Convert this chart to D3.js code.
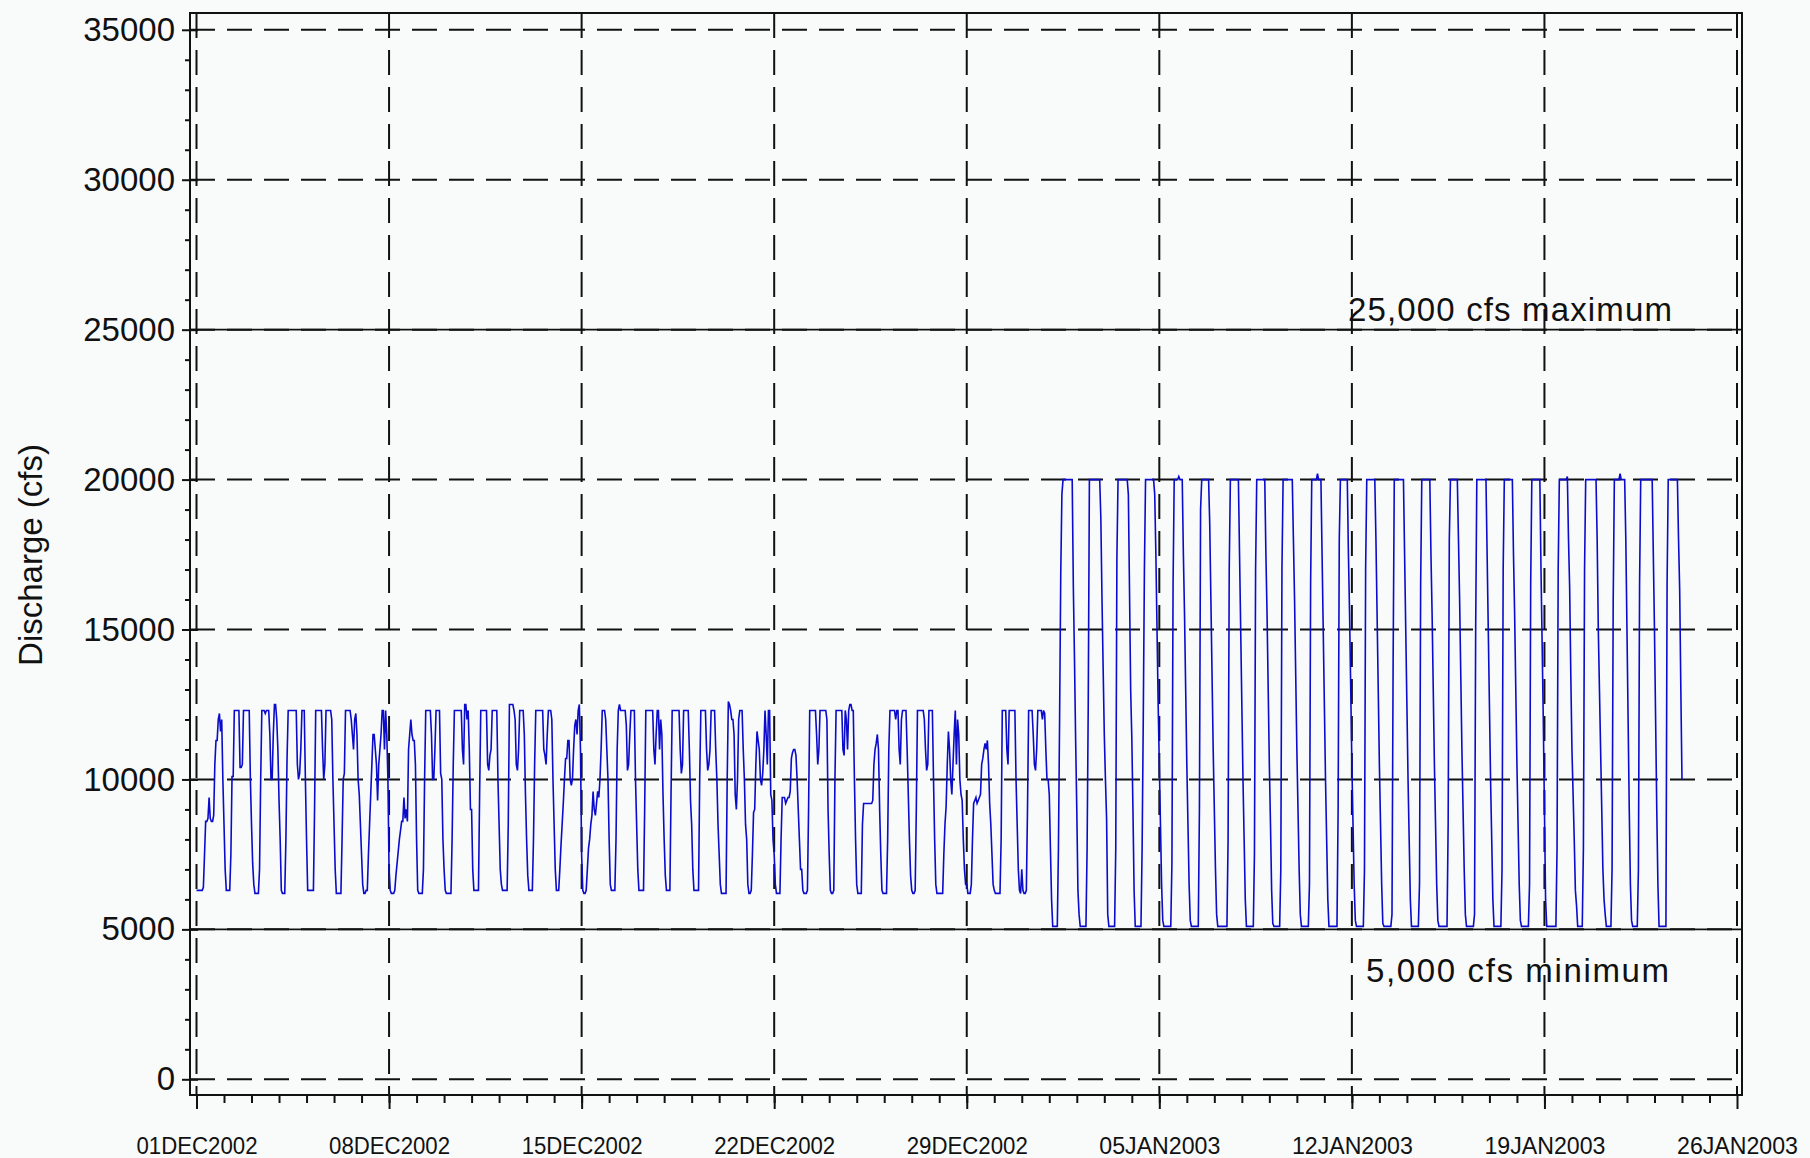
<!DOCTYPE html>
<html>
<head>
<meta charset="utf-8">
<title>Discharge</title>
<script src="https://d3js.org/d3.v7.min.js"></script>
<style>
  body { margin: 0; background: #f8fbfa; }
</style>
</head>
<body>
<script>
// hourly discharge in cfs, one row of 24 hours per day
var week1 = [ // 01DEC2002 - 07DEC2002
  [6300,6300,6300,6300,6300,6300,6400,7500,8600,8600,8700,9400,8700,8600,8600,8800,10500,11300,11300,12000,12200,11600,12000,10000],
  [8500,7000,6300,6300,6300,6300,7500,10100,10100,12300,12300,12300,12300,12300,10400,10400,10500,12300,12300,12300,12300,12300,12300,10000],
  [8500,7200,6500,6200,6200,6200,6200,7000,10000,12300,12300,12300,12200,12300,12300,12300,11500,10000,10000,11500,12500,12500,12000,11000],
  [9300,8000,6300,6200,6200,6200,8000,10700,12300,12300,12300,12300,12300,12300,12300,12300,10500,10000,10200,11000,12300,12300,12300,10000],
  [8000,6300,6300,6300,6300,6300,6300,9000,12300,12300,12300,12300,12300,12300,11000,10000,10500,12300,12300,12300,12300,12300,12000,10000],
  [8500,7000,6200,6200,6200,6200,6200,8000,10000,10200,12300,12300,12300,12300,12300,12000,11500,11000,12000,12200,11500,10000,9500,8500],
  [7500,6500,6200,6200,6300,6300,7500,8500,9500,10500,11500,11500,11000,10500,9300,10500,11000,11500,12300,12300,11000,12300,11500,10000]
];
var week2 = [ // 08DEC2002 - 14DEC2002
  [7000,6300,6200,6200,6200,6300,6800,7200,7600,8000,8300,8600,8600,9400,8700,9000,8600,11000,11500,12000,11500,11300,11300,10500],
  [8000,6300,6200,6200,6200,6200,7000,10000,12300,12300,12300,12300,12300,11500,10000,10000,11000,12300,12300,12300,12300,10200,10000,8000],
  [7000,6300,6200,6200,6200,6200,6200,8000,10500,12300,12300,12300,12300,12300,12300,12300,11000,10500,12500,12500,12000,12300,11000,9000],
  [9000,7000,6300,6300,6300,6300,6300,9500,12300,12300,12300,12300,12300,12300,10500,10300,10800,11000,12300,12300,12300,12300,12300,10000],
  [8500,7000,6500,6300,6300,6300,6300,6300,8500,12500,12500,12500,12500,12300,12000,10500,10300,11000,12300,12300,12300,12300,11500,9500],
  [8000,6800,6300,6300,6300,6300,8000,10500,12300,12300,12300,12300,12300,12300,12300,11000,10800,10500,11500,12300,12300,12300,12000,10000],
  [8500,7000,6300,6300,6300,7000,7800,8500,9200,10000,10700,10700,11300,11300,10000,9800,10000,11000,11800,12000,11500,12300,12500,11000]
];
var week3 = [ // 15DEC2002 - 21DEC2002
  [7500,6300,6200,6200,6300,7000,7700,8000,8500,8800,9600,9000,8800,9200,9600,9400,10000,11000,12300,12300,12300,12000,11000,10000],
  [8000,6500,6300,6300,6300,6300,8000,11000,12300,12500,12300,12300,12300,12300,12300,11800,10300,10500,11500,12300,12300,12300,12300,10000],
  [8500,7000,6300,6300,6300,6300,6300,9000,12300,12300,12300,12300,12300,12300,12300,11000,10500,11500,12300,12300,11000,12000,11500,9500],
  [8000,6800,6300,6300,6300,6300,9500,12300,12300,12300,12300,12300,12300,12300,11000,10200,10500,12300,12300,12300,12300,12300,11000,9300],
  [8500,7000,6300,6300,6300,6300,6300,10000,12300,12300,12300,12300,12300,11000,10300,10500,11000,12300,12300,12300,12300,11000,10000,8500],
  [7500,6500,6200,6200,6200,6200,6200,10000,12600,12500,12300,12000,12000,11500,9500,9000,10000,12000,12300,12300,12300,11000,10000,8500],
  [8000,6500,6200,6200,6300,7500,8900,9000,10500,11600,11300,11000,10000,9800,10200,11000,12300,11500,10500,12300,12300,9500,9300,8000]
];
var week4 = [ // 22DEC2002 - 28DEC2002
  [7500,6500,6200,6200,6200,6200,8000,9400,9400,9400,9200,9300,9400,9400,9600,10700,10900,11000,11000,10800,10000,9000,8000,7000],
  [7000,6300,6200,6200,6200,6300,9000,12300,12300,12300,12300,12300,12300,11500,10500,11000,12300,12300,12300,12300,12300,12300,12000,9000],
  [7500,6300,6200,6200,6300,10000,12300,12300,12300,12300,12300,12300,11000,10800,12300,12000,11000,12300,12500,12500,12300,12300,10000,8000],
  [6500,6200,6200,6200,6200,8500,9200,9200,9200,9200,9200,9200,9200,9200,9300,10500,11000,11200,11500,11000,9000,7500,6300,6200],
  [6200,6200,6200,8000,11000,12300,12300,12300,12300,12300,12000,12300,12300,11000,10500,12000,12300,12300,12300,12300,11000,9500,8000,6800],
  [6300,6200,6200,6300,9000,12300,12300,12300,12300,12300,12300,12000,11000,10300,10500,12300,12300,12300,12300,10000,8000,6500,6200,6200],
  [6200,6200,6200,6200,7500,8500,9100,10500,11600,11000,10000,9500,10500,11500,12300,10500,12000,11500,10000,9500,9300,8000,7000,6500]
];
var week5 = [ // 29DEC2002 - 04JAN2003
  [6500,6200,6200,6200,6500,8000,9200,9300,9400,9200,9300,9400,9500,10500,10700,11000,11200,11000,11300,10500,9200,8500,7500,6500],
  [6300,6200,6200,6200,6200,6200,8000,12300,12300,12300,12300,11000,10500,12300,12300,12300,12300,12300,12300,10000,8500,7000,6300,6200],
  [7000,6300,6200,6200,6300,9000,12300,12300,12300,12300,11500,10500,10300,11000,12300,12300,12300,12300,12000,12300,12200,11000,10000,10000],
  [9500,7700,6000,5100,5100,5100,5100,5100,7700,12000,16800,19500,20000,20000,20000,20000,20000,20000,20000,20000,20000,16400,14000,11300],
  [9000,6300,5500,5100,5100,5100,5100,5100,5100,7700,12500,20000,20000,20000,20000,20000,20000,20000,20000,20000,20000,18700,16000,13700],
  [11500,10000,8700,5500,5100,5100,5100,5100,5100,5100,7700,17400,20000,20000,20000,20000,20000,20000,20000,20000,20000,19500,16300,13000],
  [11400,9000,6300,5100,5100,5100,5100,5100,5100,7700,12000,17000,20000,20000,20000,20000,20000,20000,20000,20000,19500,17500,15000,12500]
];
var week6 = [ // 05JAN2003 - 11JAN2003
  [10500,8500,6500,5300,5100,5100,5100,5100,5100,5100,5100,7200,16500,20000,20000,20000,20000,20100,20000,20000,20000,17500,15500,13000],
  [10500,8500,6500,5300,5100,5100,5100,5100,5100,5100,5100,9000,19000,20000,20000,20000,20000,20000,20000,20000,18500,16000,13500,11000],
  [9000,7000,5500,5100,5100,5100,5100,5100,5100,5100,5100,5100,8000,17000,20000,20000,20000,20000,20000,20000,20000,20000,17500,15000],
  [12500,10000,8000,6000,5100,5100,5100,5100,5100,5100,5100,7500,17000,20000,20000,20000,20000,20000,20000,20000,20000,17500,15500,13000],
  [10500,8500,6300,5200,5100,5100,5100,5100,5100,5100,7000,17000,20000,20000,20000,20000,20000,20000,20000,20000,20000,18000,16000,13500],
  [11000,9000,7000,5500,5100,5100,5100,5100,5100,5100,5100,6500,16500,20000,20000,20000,20000,20000,20200,20000,20000,20000,17500,15000],
  [12500,10000,8000,6000,5100,5100,5100,5100,5100,5100,5100,5100,9000,18000,20000,20000,20000,20000,20000,20000,20000,17500,15500,13000]
];
var week7 = [ // 12JAN2003 - 18JAN2003
  [10500,8500,6500,5300,5100,5100,5100,5100,5100,5100,5100,7000,17000,20000,20000,20000,20000,20000,20000,20000,20000,18000,15500,13000],
  [10500,8500,6500,5200,5100,5100,5100,5100,5100,5100,5100,5500,14000,20000,20000,20000,20000,20000,20000,20000,20000,20000,17500,15000],
  [12500,10000,8000,6000,5100,5100,5100,5100,5100,5100,5100,6500,16500,20000,20000,20000,20000,20000,20000,20000,20000,17500,15500,13000],
  [10500,8500,6500,5300,5100,5100,5100,5100,5100,5100,5100,5100,8500,18000,20000,20000,20000,20000,20000,20000,20000,18000,16000,13500],
  [11000,9000,7000,5500,5100,5100,5100,5100,5100,5100,5100,5500,15000,20000,20000,20000,20000,20000,20000,20000,20000,20000,17500,15000],
  [12500,10000,8000,6000,5100,5100,5100,5100,5100,5100,5100,7000,17000,20000,20000,20000,20000,20000,20000,20000,20000,17500,15500,13000],
  [10500,8500,6500,5300,5100,5100,5100,5100,5100,5100,5100,6500,16500,20000,20000,20000,20000,20000,20000,20000,20000,17000,14500,12000]
];
var week8 = [ // 19JAN2003 - 24JAN2003 (last reading just after midnight)
  [9000,6000,5100,5100,5100,5100,5100,5100,5100,5100,5100,7700,17000,20000,20000,20000,20000,20000,20000,20000,20100,18000,16400,13500],
  [11000,9500,8000,6300,5800,5100,5100,5100,5100,5100,7700,17000,20000,20000,20000,20000,20000,20000,20000,20000,20000,20000,18000,15000],
  [13000,11000,9000,7000,6000,5500,5100,5100,5100,5100,5100,7000,16000,20000,20000,20000,20000,20000,20200,20000,20000,20000,20000,18000],
  [15000,12000,9000,6500,5300,5100,5100,5100,5100,5100,7000,16500,20000,20000,20000,20000,20000,20000,20000,20000,20000,20000,20000,17500],
  [15000,12000,9000,6500,5100,5100,5100,5100,5100,5100,5100,16500,20000,20000,20000,20000,20000,20000,20000,20000,20000,18000,16300,13000],
  [10000]
];

var yTicks = [0, 5000, 10000, 15000, 20000, 25000, 30000, 35000];
var xTickLabels = ["01DEC2002", "08DEC2002", "15DEC2002", "22DEC2002", "29DEC2002",
                   "05JAN2003", "12JAN2003", "19JAN2003", "26JAN2003"];
var limitValues = [25000, 5000];
var limitLabels = ["25,000 cfs maximum", "5,000 cfs minimum"];
var yTitle = "Discharge (cfs)";

var parseDay = d3.timeParse("%d%b%Y");
var xTickDates = xTickLabels.map(function (s) { return parseDay(s); });
var start = xTickDates[0];

var values = [week1, week2, week3, week4, week5, week6, week7, week8].flat(2);
var data = values.map(function (v, i) { return {t: d3.timeHour.offset(start, i), v: v}; });

var W = 1810, H = 1158;
var frame = {left: 190, right: 1742, top: 13, bottom: 1095};

var x = d3.scaleTime()
          .domain([xTickDates[0], xTickDates[xTickDates.length - 1]])
          .range([196.5, 1737]);
var y = d3.scaleLinear()
          .domain([0, 35000])
          .range([1079.3, 29.8]);

var svg = d3.select("body").append("svg")
            .attr("width", W)
            .attr("height", H)
            .style("display", "block");

svg.append("rect")
   .attr("width", W)
   .attr("height", H)
   .attr("fill", "#f8fbfa");

var font = "'Liberation Sans', Arial, Helvetica, sans-serif";

// dashed grid
svg.selectAll("line.hgrid")
   .data(yTicks)
   .enter()
   .append("line")
   .attr("class", "hgrid")
   .attr("x1", frame.left)
   .attr("x2", frame.right)
   .attr("y1", function (d) { return y(d); })
   .attr("y2", function (d) { return y(d); })
   .attr("stroke", "#111")
   .attr("stroke-width", 2)
   .attr("stroke-dasharray", "25,12");

svg.selectAll("line.vgrid")
   .data(xTickDates)
   .enter()
   .append("line")
   .attr("class", "vgrid")
   .attr("x1", function (d) { return x(d); })
   .attr("x2", function (d) { return x(d); })
   .attr("y1", frame.top)
   .attr("y2", frame.bottom)
   .attr("stroke", "#111")
   .attr("stroke-width", 2)
   .attr("stroke-dasharray", "25,12");

// solid limit lines
svg.selectAll("line.limit")
   .data(limitValues)
   .enter()
   .append("line")
   .attr("class", "limit")
   .attr("x1", frame.left)
   .attr("x2", frame.right)
   .attr("y1", function (d) { return y(d); })
   .attr("y2", function (d) { return y(d); })
   .attr("stroke", "#111")
   .attr("stroke-width", 1.6);

// discharge line
var line = d3.line()
             .x(function (d) { return x(d.t); })
             .y(function (d) { return y(d.v); });

svg.append("path")
   .datum(data)
   .attr("d", line)
   .attr("fill", "none")
   .attr("stroke", "#0b0bcc")
   .attr("stroke-width", 1.6)
   .attr("stroke-linejoin", "miter");

// limit labels
svg.append("text")
   .attr("x", 1348)
   .attr("y", y(limitValues[0]) - 9)
   .attr("font-family", font)
   .attr("font-size", 33)
   .attr("textLength", 324)
   .attr("lengthAdjust", "spacing")
   .attr("fill", "#111")
   .text(limitLabels[0]);

svg.append("text")
   .attr("x", 1366)
   .attr("y", y(limitValues[1]) + 53)
   .attr("font-family", font)
   .attr("font-size", 33)
   .attr("textLength", 303)
   .attr("lengthAdjust", "spacing")
   .attr("fill", "#111")
   .text(limitLabels[1]);

// frame
svg.append("rect")
   .attr("x", frame.left)
   .attr("y", frame.top)
   .attr("width", frame.right - frame.left)
   .attr("height", frame.bottom - frame.top)
   .attr("fill", "none")
   .attr("stroke", "#111")
   .attr("stroke-width", 2);

// y axis: major ticks with labels, minor ticks every 1000
var yMinor = d3.range(0, 35001, 1000).filter(function (d) { return d % 5000 !== 0; });

svg.append("g")
   .attr("transform", "translate(198,0)")
   .call(d3.axisLeft(y).tickValues(yTicks).tickSizeInner(16).tickSizeOuter(0).tickPadding(7)
           .tickFormat(d3.format("d")))
   .call(function (g) { g.select(".domain").remove(); })
   .attr("font-family", font)
   .attr("font-size", 33)
   .call(function (g) { g.selectAll("line").attr("stroke", "#111").attr("stroke-width", 2); })
   .call(function (g) { g.selectAll("text").attr("fill", "#111"); });

svg.append("g")
   .attr("transform", "translate(" + frame.left + ",0)")
   .call(d3.axisLeft(y).tickValues(yMinor).tickSizeInner(5).tickSizeOuter(0).tickFormat(""))
   .call(function (g) { g.select(".domain").remove(); })
   .call(function (g) { g.selectAll("line").attr("stroke", "#111").attr("stroke-width", 2); });

// x axis: weekly labelled ticks, daily minor ticks
var xMinor = d3.timeDay.range(xTickDates[0], xTickDates[xTickDates.length - 1]);

svg.append("g")
   .attr("transform", "translate(0," + frame.bottom + ")")
   .call(d3.axisBottom(x).tickValues(xMinor).tickSizeInner(8).tickSizeOuter(0).tickFormat(""))
   .call(function (g) { g.select(".domain").remove(); })
   .call(function (g) { g.selectAll("line").attr("stroke", "#111").attr("stroke-width", 2); });

svg.append("g")
   .attr("transform", "translate(0," + frame.bottom + ")")
   .call(d3.axisBottom(x).tickValues(xTickDates).tickSizeInner(14).tickSizeOuter(0).tickPadding(28)
           .tickFormat(function (d, i) { return xTickLabels[i]; }))
   .call(function (g) { g.select(".domain").remove(); })
   .attr("font-family", font)
   .attr("font-size", 24)
   .call(function (g) { g.selectAll("line").attr("stroke", "#111").attr("stroke-width", 2); })
   .call(function (g) {
     g.selectAll("text")
      .attr("fill", "#111")
      .attr("textLength", 121)
      .attr("lengthAdjust", "spacingAndGlyphs");
   });

// y axis title
svg.append("text")
   .attr("transform", "translate(42,555) rotate(-90)")
   .attr("text-anchor", "middle")
   .attr("font-family", font)
   .attr("font-size", 33)
   .attr("fill", "#111")
   .text(yTitle);
</script>
</body>
</html>
